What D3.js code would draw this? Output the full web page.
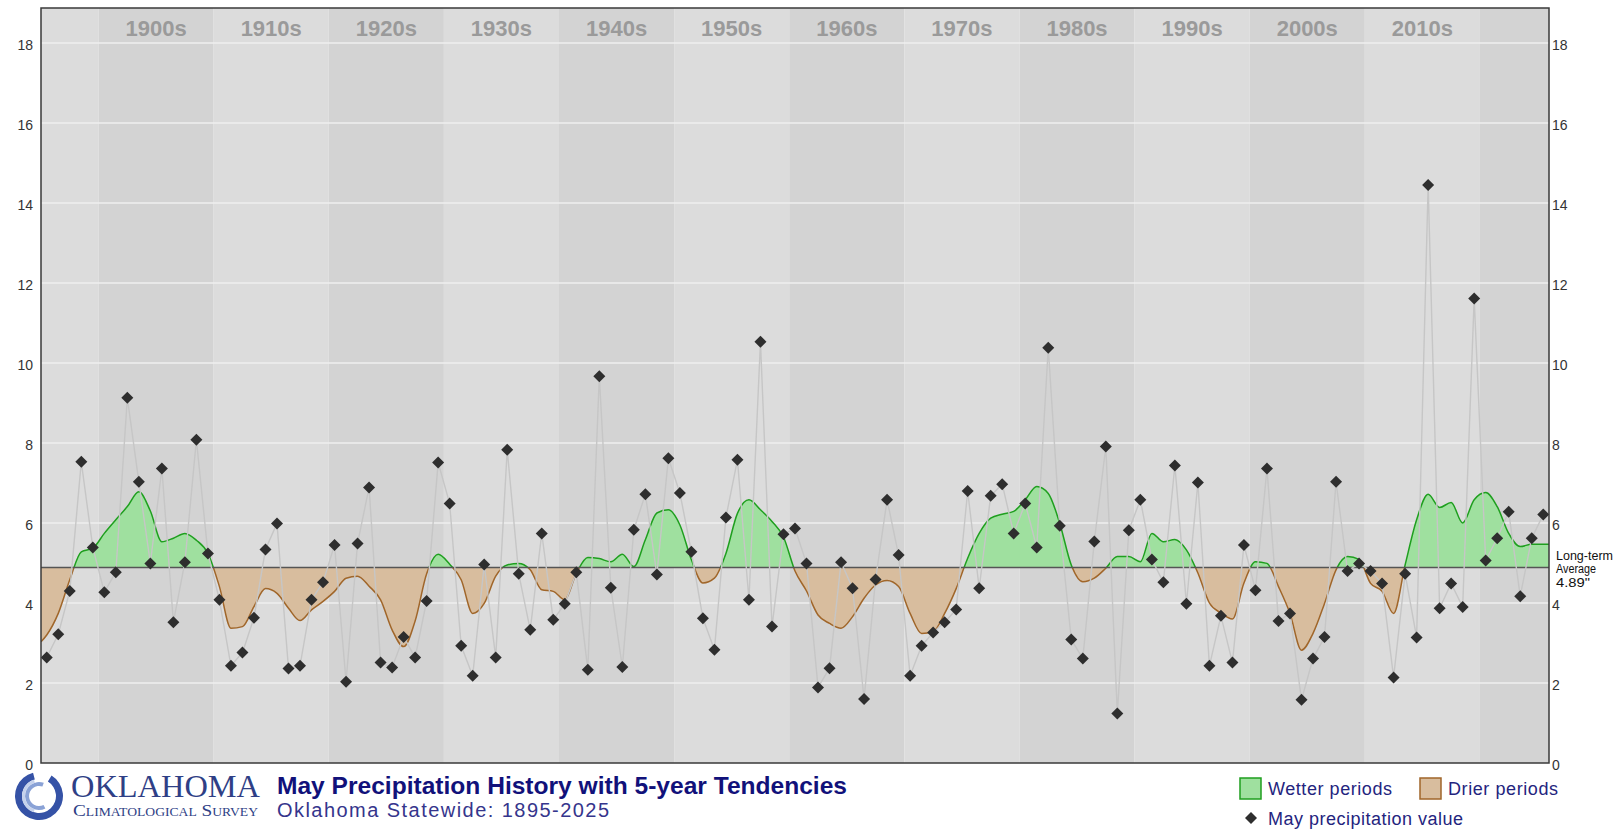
<!DOCTYPE html>
<html>
<head>
<meta charset="utf-8">
<script src="https://cdn.jsdelivr.net/npm/d3@7"></script>
<style>
  body { margin: 0; background: #fff; }
  svg { display: block; font-family: "Liberation Sans", Arial, sans-serif; }
</style>
</head>
<body>
<script>
// May statewide precipitation (inches), 1895-2025
const firstYear = 1895, lastYear = 2025;
const years = d3.range(firstYear, lastYear + 1);
const precip = [
  2.64, 3.22, 4.30, 7.53, 5.39,
  4.27, 4.77, 9.13, 7.03, 4.99, 7.36, 3.52, 5.02, 8.08, 5.24,
  4.08, 2.43, 2.76, 3.63, 5.34, 5.99, 2.36, 2.43, 4.08, 4.52,
  5.45, 2.03, 5.49, 6.89, 2.51, 2.39, 3.15, 2.64, 4.05, 7.51,
  6.49, 2.93, 2.18, 4.96, 2.64, 7.83, 4.73, 3.33, 5.74, 3.58,
  3.98, 4.77, 2.33, 9.67, 4.38, 2.40, 5.83, 6.72, 4.71, 7.62,
  6.75, 5.28, 3.62, 2.83, 6.14, 7.58, 4.08, 10.53, 3.41, 5.72,
  5.86, 4.99, 1.89, 2.37, 5.02, 4.37, 1.60, 4.59, 6.58, 5.20,
  2.18, 2.93, 3.26, 3.52, 3.84, 6.80, 4.37, 6.68, 6.97, 5.74,
  6.49, 5.39, 10.38, 5.93, 3.09, 2.61, 5.54, 7.91, 1.24, 5.82,
  6.58, 5.09, 4.52, 7.44, 3.98, 7.01, 2.43, 3.68, 2.51, 5.45,
  4.32, 7.36, 3.55, 3.74, 1.58, 2.61, 3.15, 7.03, 4.80, 4.99,
  4.80, 4.49, 2.14, 4.73, 3.14, 14.45, 3.87, 4.49, 3.90, 11.61,
  5.06, 5.62, 6.28, 4.17, 5.62, 6.21
];
// 5-year tendency curve, read at each year
const tendency = [
  3.20, 3.74, 4.58, 5.28, 5.37,
  5.74, 6.08, 6.41, 6.78, 6.30, 5.53, 5.62, 5.74, 5.57, 5.24,
  4.41, 3.37, 3.41, 3.91, 4.36, 4.24, 3.87, 3.56, 3.83, 4.04,
  4.29, 4.62, 4.67, 4.42, 4.08, 3.33, 2.91, 3.55, 4.73, 5.22,
  4.97, 4.58, 3.74, 3.99, 4.67, 4.95, 4.99, 4.83, 4.33, 4.29,
  4.08, 4.74, 5.14, 5.11, 5.03, 5.22, 4.91, 5.58, 6.25, 6.33,
  5.95, 5.08, 4.50, 4.62, 5.24, 6.24, 6.58, 6.33, 6.04, 5.65,
  4.80, 4.30, 3.70, 3.49, 3.37, 3.66, 4.12, 4.45, 4.56, 4.41,
  3.74, 3.24, 3.28, 3.74, 4.36, 5.12, 5.74, 6.12, 6.22, 6.29,
  6.58, 6.91, 6.74, 5.99, 4.95, 4.53, 4.62, 4.87, 5.16, 5.16,
  5.03, 5.74, 5.53, 5.59, 5.33, 4.75, 4.00, 3.75, 3.60, 4.50,
  5.03, 4.99, 4.41, 3.74, 2.82, 3.24, 3.99, 4.83, 5.16, 5.09,
  4.49, 4.29, 3.74, 4.95, 6.08, 6.72, 6.39, 6.51, 6.00, 6.58,
  6.76, 6.41, 5.74, 5.41, 5.47, 5.47
];
const tendencyEdges = [3.03, 5.47];   // curve value at the left / right plot edge
const longTermAvg = 4.89;
const avgLabelLines = ['Long-term', 'Average', '4.89"'];
const decades = d3.range(1890, 2030, 10);
const labelledDecades = decades.filter(d => d >= 1900 && d <= 2010);
const yTicks = d3.range(0, 20, 2);

const W = 1617, H = 830;
const margin = {top: 8, right: 68, bottom: 67, left: 41};
const width = W - margin.left - margin.right;
const height = H - margin.top - margin.bottom;

const svg = d3.select('body').append('svg')
  .attr('width', W)
  .attr('height', H);

const g = svg.append('g')
  .attr('transform', `translate(${margin.left},${margin.top})`);

const x = d3.scaleLinear().domain([firstYear - 0.5, lastYear + 0.5]).range([0, width]);
const y = d3.scaleLinear().domain([0, 18.875]).range([height, 0]);

// decade bands
g.selectAll('rect.band')
  .data(decades)
  .join('rect')
  .attr('class', 'band')
  .attr('x', d => x(Math.max(d - 0.5, firstYear - 0.5)))
  .attr('width', d => x(Math.min(d + 9.5, lastYear + 0.5)) - x(Math.max(d - 0.5, firstYear - 0.5)))
  .attr('y', 0)
  .attr('height', height)
  .attr('fill', d => (d / 10) % 2 === 0 ? '#d3d3d3' : '#dcdcdc');

// grid
g.selectAll('line.grid')
  .data(yTicks.filter(t => t > 0))
  .join('line')
  .attr('class', 'grid')
  .attr('x1', 0).attr('x2', width)
  .attr('y1', d => y(d)).attr('y2', d => y(d))
  .attr('stroke', '#efefef')
  .attr('stroke-width', 1.3);

// decade labels
g.selectAll('text.decade')
  .data(labelledDecades)
  .join('text')
  .attr('class', 'decade')
  .attr('x', d => x(d + 4.5))
  .attr('y', 28)
  .attr('text-anchor', 'middle')
  .attr('font-size', 22)
  .attr('font-weight', 'bold')
  .attr('fill', '#9a9a9a')
  .text(d => d + 's');

// axes
const yl = g.append('g')
  .call(d3.axisLeft(y).tickValues(yTicks).tickSize(0).tickPadding(8));
const yr = g.append('g')
  .attr('transform', `translate(${width},0)`)
  .call(d3.axisRight(y).tickValues(yTicks).tickSize(0).tickPadding(3));
[yl, yr].forEach(a => {
  a.select('.domain').remove();
  a.selectAll('text')
    .attr('font-size', 14)
    .attr('font-family', '"Liberation Sans", Arial, sans-serif')
    .attr('fill', '#333')
    .attr('dy', '0.45em');
});

// tendency areas
const tdata = [{year: firstYear - 0.5, v: tendencyEdges[0]}]
  .concat(years.map((yr, i) => ({year: yr, v: tendency[i]})))
  .concat([{year: lastYear + 0.5, v: tendencyEdges[1]}]);

const defs = svg.append('defs');
defs.append('clipPath').attr('id', 'above')
  .append('rect').attr('x', 0).attr('y', 0).attr('width', width).attr('height', y(longTermAvg));
defs.append('clipPath').attr('id', 'below')
  .append('rect').attr('x', 0).attr('y', y(longTermAvg)).attr('width', width).attr('height', height - y(longTermAvg));

const area = d3.area()
  .x(d => x(d.year))
  .y0(y(longTermAvg))
  .y1(d => y(d.v))
  .curve(d3.curveMonotoneX);
const tline = d3.line()
  .x(d => x(d.year))
  .y(d => y(d.v))
  .curve(d3.curveMonotoneX);

[['above', '#9fe09f', '#1f9f1f'], ['below', '#d8bd9e', '#a0662a']].forEach(([id, fill, stroke]) => {
  const cg = g.append('g').attr('clip-path', `url(#${id})`);
  cg.append('path').datum(tdata).attr('d', area).attr('fill', fill);
  cg.append('path').datum(tdata).attr('d', tline)
    .attr('fill', 'none').attr('stroke', stroke).attr('stroke-width', 1.5);
});

// long-term average line
g.append('line')
  .attr('x1', 0).attr('x2', width)
  .attr('y1', y(longTermAvg)).attr('y2', y(longTermAvg))
  .attr('stroke', '#555')
  .attr('stroke-width', 1.5);

// connecting line + points
const pts = years.map((yr, i) => ({year: yr, v: precip[i]}));
g.append('path')
  .datum(pts)
  .attr('d', d3.line().x(d => x(d.year)).y(d => y(d.v)))
  .attr('fill', 'none')
  .attr('stroke', '#c6c6c6')
  .attr('stroke-width', 1.4);

const diamond = d3.symbol(d3.symbolSquare, 72);
g.selectAll('path.pt')
  .data(pts)
  .join('path')
  .attr('class', 'pt')
  .attr('d', diamond)
  .attr('transform', d => `translate(${x(d.year)},${y(d.v)}) rotate(45)`)
  .attr('fill', '#2e2e2e');

// frame
g.append('rect')
  .attr('width', width).attr('height', height)
  .attr('fill', 'none')
  .attr('stroke', '#3a3a3a')
  .attr('stroke-width', 1.5);

// long-term average label, one text per line
g.selectAll('text.avg')
  .data(avgLabelLines)
  .join('text')
  .attr('class', 'avg')
  .attr('x', width + 7)
  .attr('y', (d, i) => y(longTermAvg) - 7.5 + i * 13.5)
  .attr('font-size', 12.5)
  .attr('fill', '#111')
  .each(function(d, i) {
    if (i > 0) d3.select(this).attr('textLength', i === 1 ? 40 : 34).attr('lengthAdjust', 'spacingAndGlyphs');
  })
  .text(d => d);

// logo
const logo = svg.append('g').attr('transform', 'translate(39,796)');
logo.append('path')
  .attr('d', d3.arc().innerRadius(17).outerRadius(24).startAngle(0.55).endAngle(2 * Math.PI - 0.25)())
  .attr('fill', '#3552a6');
logo.append('path')
  .attr('d', d3.arc().innerRadius(10).outerRadius(14).startAngle(Math.PI * 0.85).endAngle(2 * Math.PI + 0.35)())
  .attr('fill', '#8aa2d6');
logo.append('path')
  .attr('d', d3.arc().innerRadius(14).outerRadius(17).startAngle(Math.PI * 1.1).endAngle(2 * Math.PI - 0.3)())
  .attr('fill', '#c6d2ec');

svg.append('text')
  .attr('x', 71).attr('y', 797)
  .attr('font-family', '"Liberation Serif", "Times New Roman", serif')
  .attr('font-size', 32)
  .attr('textLength', 189)
  .attr('lengthAdjust', 'spacingAndGlyphs')
  .attr('fill', '#2f3f86')
  .text('OKLAHOMA');
svg.append('text')
  .attr('x', 73).attr('y', 816)
  .attr('font-family', '"Liberation Serif", "Times New Roman", serif')
  .attr('font-size', 17)
  .style('font-variant', 'small-caps')
  .attr('textLength', 185)
  .attr('lengthAdjust', 'spacingAndGlyphs')
  .attr('fill', '#2f3f86')
  .text('Climatological Survey');

// titles
svg.append('text')
  .attr('x', 277).attr('y', 793.5)
  .attr('font-size', 24)
  .attr('font-weight', 'bold')
  .attr('textLength', 570)
  .attr('lengthAdjust', 'spacingAndGlyphs')
  .attr('fill', '#11117a')
  .text('May Precipitation History with 5-year Tendencies');
svg.append('text')
  .attr('x', 277).attr('y', 817)
  .attr('font-size', 20)
  .attr('textLength', 332)
  .attr('lengthAdjust', 'spacing')
  .attr('fill', '#35358c')
  .text('Oklahoma Statewide:  1895-2025');

// legend
const legend = svg.append('g').attr('font-size', 18).attr('fill', '#24247e');
legend.append('rect').attr('x', 1240).attr('y', 778).attr('width', 21).attr('height', 21)
  .attr('fill', '#9fe09f').attr('stroke', '#1f9f1f').attr('stroke-width', 1.5);
legend.append('text').attr('x', 1268).attr('y', 795).attr('textLength', 124).attr('lengthAdjust', 'spacing').text('Wetter periods');
legend.append('rect').attr('x', 1420).attr('y', 778).attr('width', 21).attr('height', 21)
  .attr('fill', '#d8bd9e').attr('stroke', '#a0662a').attr('stroke-width', 1.5);
legend.append('text').attr('x', 1448).attr('y', 795).attr('textLength', 110).attr('lengthAdjust', 'spacing').text('Drier periods');
legend.append('path').attr('d', diamond)
  .attr('transform', 'translate(1251,818) rotate(45)')
  .attr('fill', '#2e2e2e');
legend.append('text').attr('x', 1268).attr('y', 825).attr('textLength', 195).attr('lengthAdjust', 'spacing').text('May precipitation value');
</script>
</body>
</html>
